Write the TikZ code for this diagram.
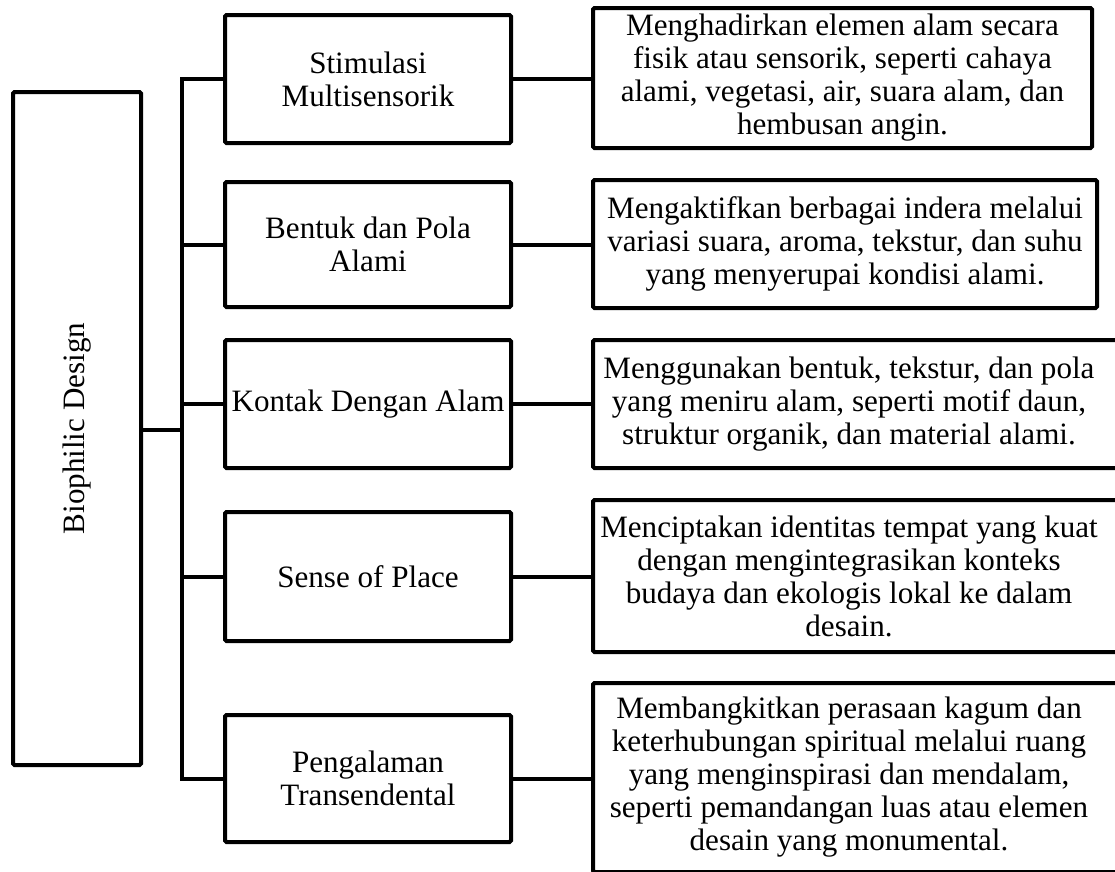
\documentclass[tikz,border=0pt]{standalone}
\usepackage{fontspec}
\setmainfont{Liberation Serif}
\begin{document}
\begin{tikzpicture}[x=1pt,y=-1pt,
  txt/.style={inner sep=0pt,align=center,font=\fontsize{31.1}{33}\selectfont},
  box/.style={txt,draw=black,line width=4pt,rounded corners=1.5pt},
  openbox/.style={txt,outer sep=0pt},
  frame/.style={draw=black,line width=4pt,rounded corners=1.5pt},
  conn/.style={line width=4pt,line cap=rect}]
\useasboundingbox (0,0) rectangle (1115,871);
\clip (0,0) rectangle (1115,871);
% root
\node[box,minimum width=128pt,minimum height=673pt] (root) at (77,428.5)
  {\rotatebox{90}{Biophilic Design}};
% middle boxes (x 225-511)
\node[box,minimum width=286pt,minimum height=128pt] (m1) at (368,79) {Stimulasi\\Multisensorik};
\node[box,minimum width=286pt,minimum height=125pt] (m2) at (368,244.5) {Bentuk dan Pola\\Alami};
\node[box,minimum width=286pt,minimum height=128pt] (m3) at (368,404) {Kontak Dengan Alam};
\node[box,minimum width=286pt,minimum height=129pt] (m4) at (368,576.5) {Sense of Place};
\node[box,minimum width=286pt,minimum height=127pt] (m5) at (368,778.5) {Pengalaman\\Transendental};
% right boxes (left x 593)
\node[box,minimum width=499pt,minimum height=140pt] (r1) at (842.5,78)
  {Menghadirkan elemen alam secara\\fisik atau sensorik, seperti cahaya\\alami, vegetasi, air, suara alam, dan\\hembusan angin.};
\node[box,minimum width=504pt,minimum height=128pt] (r2) at (845,244)
  {Mengaktifkan berbagai indera melalui\\variasi suara, aroma, tekstur, dan suhu\\yang menyerupai kondisi alami.};
% boxes running past the right edge: text centred at x=849
\node[openbox,minimum width=512pt,minimum height=128pt] (r3) at (849,404)
  {Menggunakan bentuk, tekstur, dan pola\\yang meniru alam, seperti motif daun,\\struktur organik, dan material alami.};
\node[openbox,minimum width=512pt,minimum height=152pt] (r4) at (849,576)
  {Menciptakan identitas tempat yang kuat\\dengan mengintegrasikan konteks\\budaya dan ekologis lokal ke dalam\\desain.};
\node[openbox,minimum width=512pt,minimum height=189pt] (r5) at (849,777.5)
  {Membangkitkan perasaan kagum dan\\keterhubungan spiritual melalui ruang\\yang menginspirasi dan mendalam,\\seperti pemandangan luas atau elemen\\desain yang monumental.};
\foreach \n in {r3,r4,r5}{
  \draw[frame] (\n.north west) rectangle ([xshift=40pt]\n.south east);
}
% bracket
\coordinate (bt) at (182,79);
\coordinate (bb) at (182,778.5);
\coordinate (bm) at (182,430);
\draw[conn] (bt) -- (bb);
\draw[conn] (root.east |- bm) -- (bm);
\foreach \i in {1,...,5}{
  \draw[conn] (m\i.west -| bt) -- (m\i.west);
  \draw[conn] (m\i.east) -- (m\i.east -| r\i.west);
}
\end{tikzpicture}
\end{document}
